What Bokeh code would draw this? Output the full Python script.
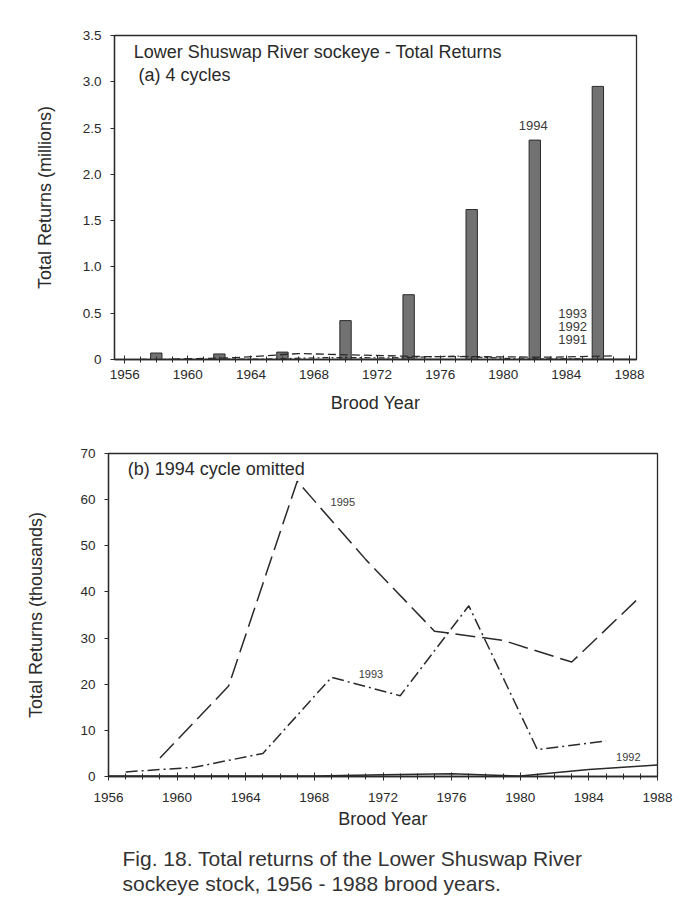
from bokeh.plotting import figure
from bokeh.models import Range1d, FixedTicker
from bokeh.layouts import column
from bokeh.core.properties import value
from bokeh.embed import file_html
from bokeh.resources import INLINE

# ---------------- data ----------------
# 1994 cycle (bars, millions)
years_1994 = [1958, 1962, 1966, 1970, 1974, 1978, 1982, 1986]
ret_1994 = [0.07, 0.06, 0.08, 0.42, 0.70, 1.62, 2.37, 2.95]
# 1991 (labelled "1995" in panel b) cycle, thousands
years_1991 = [1959, 1963, 1967, 1971, 1975, 1979, 1983, 1987]
ret_1991 = [4.0, 19.6, 64.0, 47.0, 31.5, 29.5, 24.8, 39.0]
# 1993 cycle, thousands
years_1993 = [1957, 1961, 1965, 1969, 1973, 1977, 1981, 1985]
ret_1993 = [1.0, 2.0, 5.0, 21.5, 17.5, 37.0, 5.8, 7.7]
# 1992 cycle, thousands
years_1992 = [1956, 1960, 1964, 1968, 1972, 1976, 1980, 1984, 1988]
ret_1992 = [0.1, 0.1, 0.1, 0.1, 0.4, 0.6, 0.1, 1.5, 2.5]

x_major = [1956, 1960, 1964, 1968, 1972, 1976, 1980, 1984, 1988]
x_minor = list(range(1955, 1989))
y_ticks_a = [0, 0.5, 1.0, 1.5, 2.0, 2.5, 3.0, 3.5]
y_labels_a = ["0", "0.5", "1.0", "1.5", "2.0", "2.5", "3.0", "3.5"]
y_ticks_b = [0, 10, 20, 30, 40, 50, 60, 70]

FONT = "Liberation Sans"
INK = "#2a2a2a"


def style_axes(p, xstand, xlab_stand, ystand, ylab_stand):
    for ax in p.axis:
        ax.axis_line_color = INK
        ax.axis_line_width = 1.3
        ax.major_tick_line_color = INK
        ax.minor_tick_line_color = INK
        ax.major_label_text_font = FONT
        ax.major_label_text_font_size = "13.5px"
        ax.major_label_text_color = INK
        ax.axis_label_text_font = FONT
        ax.axis_label_text_font_size = "18px"
        ax.axis_label_text_font_style = "normal"
        ax.axis_label_text_color = INK
    p.xaxis.major_tick_in = 4
    p.xaxis.major_tick_out = 4
    p.xaxis.minor_tick_in = 3
    p.xaxis.minor_tick_out = 3
    p.xaxis.major_label_standoff = xstand
    p.xaxis.axis_label_standoff = xlab_stand
    p.yaxis.major_tick_in = 0
    p.yaxis.major_tick_out = 4
    p.yaxis.minor_tick_line_color = None
    p.yaxis.major_label_standoff = ystand
    p.yaxis.axis_label_standoff = ylab_stand
    p.xgrid.visible = False
    p.ygrid.visible = False
    p.outline_line_color = INK
    p.outline_line_width = 1.3
    p.background_fill_color = "white"
    p.border_fill_color = "white"


# ---------------- panel (a) ----------------
p1 = figure(width=684, height=420, output_backend="svg", toolbar_location=None,
            x_range=Range1d(1955.35, 1988.45), y_range=Range1d(0, 3.5),
            min_border_left=114, min_border_right=48, min_border_top=35,
            min_border_bottom=61, frame_align=False)
p1.xaxis.axis_label = "Brood Year"
p1.yaxis.axis_label = "Total Returns (millions)"
p1.xaxis.ticker = FixedTicker(ticks=x_major, minor_ticks=x_minor)
p1.yaxis.ticker = FixedTicker(ticks=y_ticks_a)
p1.yaxis.major_label_overrides = {t: l for t, l in zip(y_ticks_a, y_labels_a)}
style_axes(p1, 6, 11, 9, 25)

p1.vbar(x=years_1994, top=ret_1994, width=0.72, bottom=0,
        fill_color="#727272", line_color="#2a2a2a", line_width=1)
p1.line(years_1991, [v / 1000 for v in ret_1991],
        line_color=INK, line_width=1.3, line_dash="8 4")
p1.line(years_1993, [v / 1000 for v in ret_1993],
        line_color=INK, line_width=1.2, line_dash="6 3 2 3")
p1.line(years_1992, [v / 1000 for v in ret_1992],
        line_color=INK, line_width=1.2)

p1.text(x=[1956.57], y=[3.326], text=["Lower Shuswap River sockeye - Total Returns"],
        text_font=value(FONT), text_font_size=value("18px"), text_color=INK,
        text_baseline="middle", text_align="left")
p1.text(x=[1956.87], y=[3.074], text=["(a) 4 cycles"],
        text_font=value(FONT), text_font_size=value("18px"), text_color=INK,
        text_baseline="middle", text_align="left")
p1.text(x=[1981.9], y=[2.53], text=["1994"],
        text_font=value(FONT), text_font_size=value("13px"), text_color="#3a3a3a",
        text_baseline="middle", text_align="center")
p1.text(x=[1984.4, 1984.4, 1984.4], y=[0.50, 0.36, 0.22], text=["1993", "1992", "1991"],
        text_font=value(FONT), text_font_size=value("13px"), text_color="#3a3a3a",
        text_baseline="middle", text_align="center")

# ---------------- panel (b) ----------------
p2 = figure(width=684, height=420, output_backend="svg", toolbar_location=None,
            x_range=Range1d(1956, 1988), y_range=Range1d(0, 70),
            min_border_left=108, min_border_right=27, min_border_top=33,
            min_border_bottom=64, frame_align=False)
p2.xaxis.axis_label = "Brood Year"
p2.yaxis.axis_label = "Total Returns (thousands)"
p2.xaxis.ticker = FixedTicker(ticks=x_major, minor_ticks=x_minor)
p2.yaxis.ticker = FixedTicker(ticks=y_ticks_b)
style_axes(p2, 12, 4, 9, 31)

p2.line(years_1991, ret_1991, line_color=INK, line_width=1.5, line_dash="20 7")
p2.line(years_1993, ret_1993, line_color=INK, line_width=1.5, line_dash="12 4 2 4")
p2.line(years_1992, ret_1992, line_color=INK, line_width=1.5)

p2.text(x=[1957.12], y=[66.6], text=["(b) 1994 cycle omitted"],
        text_font=value(FONT), text_font_size=value("18px"), text_color=INK,
        text_baseline="middle", text_align="left")
p2.text(x=[1969.66, 1971.3, 1986.3], y=[59.4, 22.2, 4.2], text=["1995", "1993", "1992"],
        text_font=value(FONT), text_font_size=value("11px"), text_color="#3a3a3a",
        text_baseline="middle", text_align="center")

# ---------------- caption ----------------
p3 = figure(width=684, height=84, output_backend="svg", toolbar_location=None,
            x_range=Range1d(0, 684), y_range=Range1d(84, 0),
            x_axis_type=None, y_axis_type=None,
            min_border=0, min_border_left=0, min_border_right=0,
            min_border_top=0, min_border_bottom=0, frame_align=False)
p3.xgrid.visible = False
p3.ygrid.visible = False
p3.outline_line_color = None
p3.text(x=[122, 122], y=[17.7, 43.3],
        text=["Fig. 18. Total returns of the Lower Shuswap River",
              "sockeye stock, 1956 - 1988 brood years."],
        text_font=value(FONT), text_font_size=value("21px"), text_color="#333333",
        text_baseline="middle", text_align="left")

layout = column(p1, p2, p3, spacing=0)
open("out.html", "w").write(file_html(layout, INLINE))
